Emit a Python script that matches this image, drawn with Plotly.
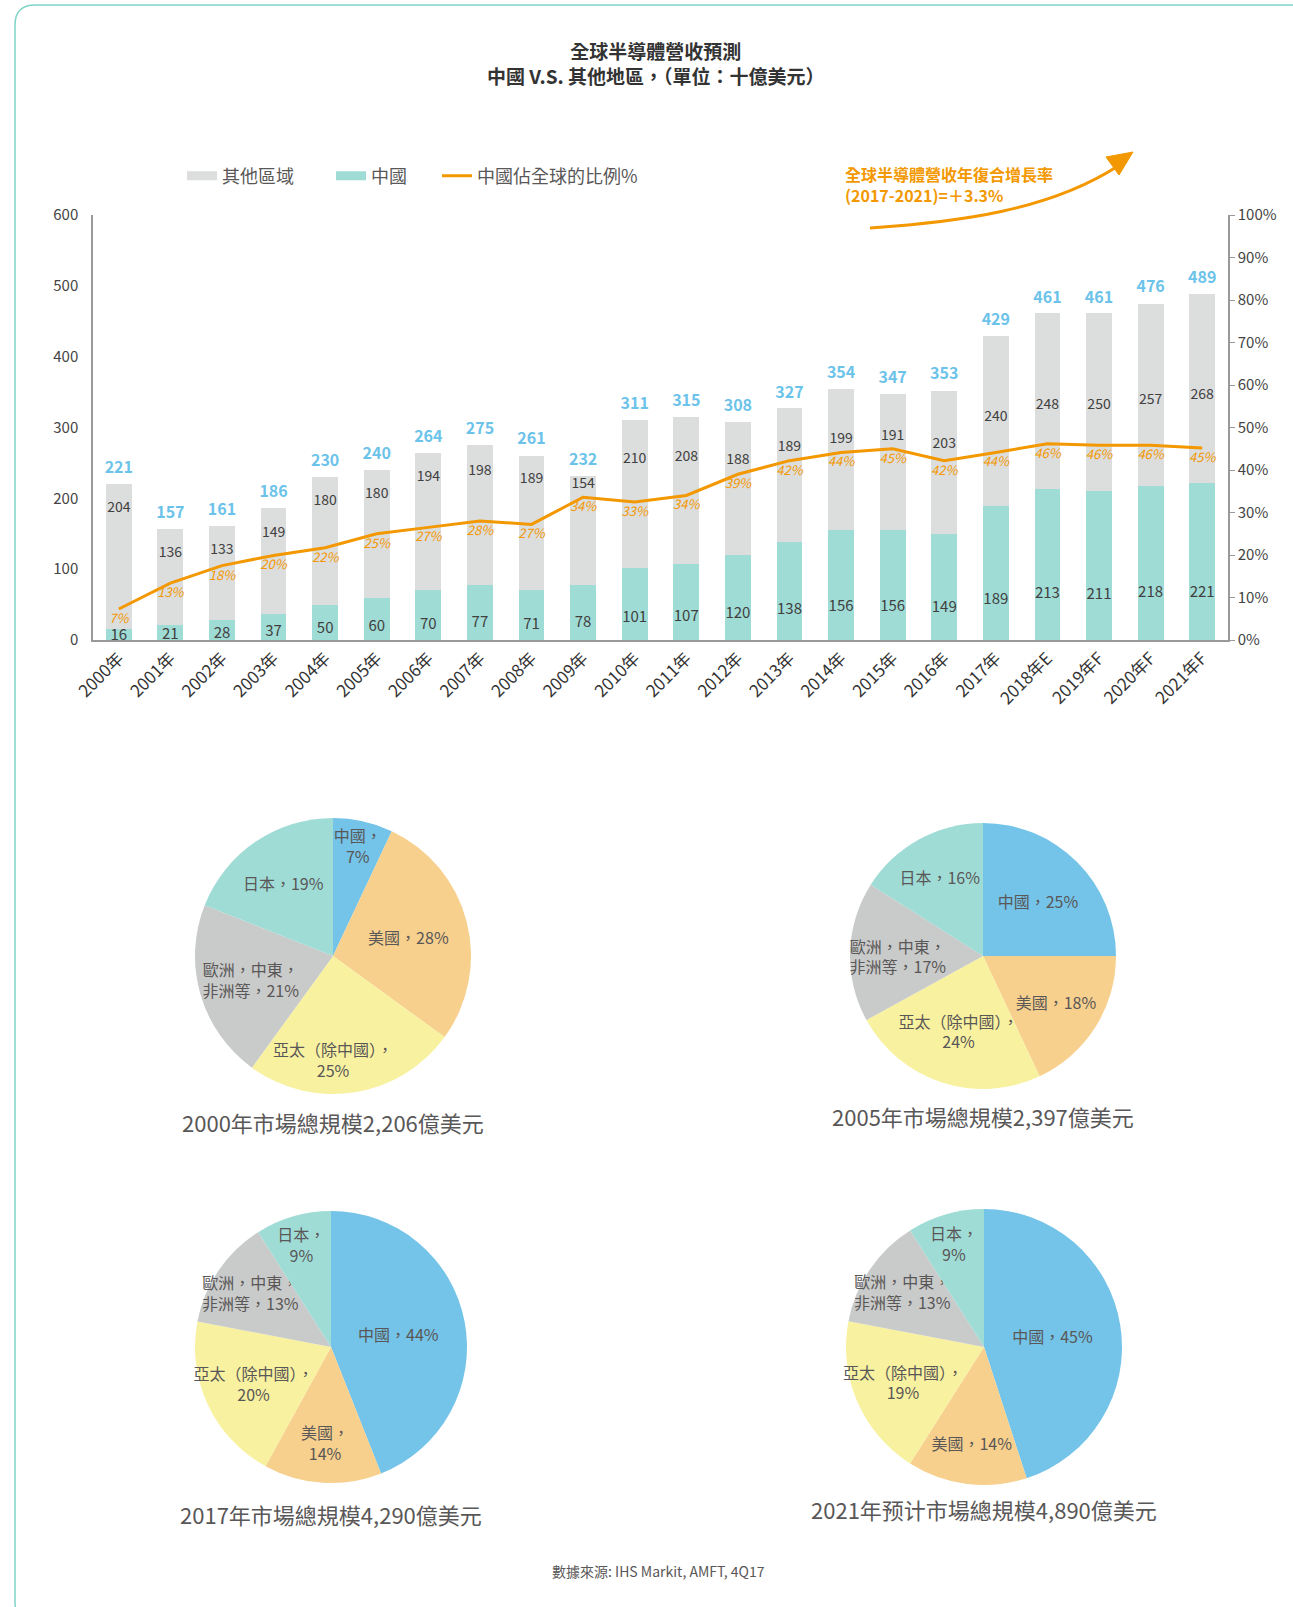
import plotly.graph_objects as go

W, H = 1293, 1607
FONT = "Noto Sans CJK TC"

# ---------------- data ----------------
years = ["2000年", "2001年", "2002年", "2003年", "2004年", "2005年", "2006年", "2007年",
         "2008年", "2009年", "2010年", "2011年", "2012年", "2013年", "2014年", "2015年",
         "2016年", "2017年", "2018年E", "2019年F", "2020年F", "2021年F"]
china = [16, 21, 28, 37, 50, 60, 70, 77, 71, 78, 101, 107, 120, 138, 156, 156, 149, 189, 213, 211, 218, 221]
other = [204, 136, 133, 149, 180, 180, 194, 198, 189, 154, 210, 208, 188, 189, 199, 191, 203, 240, 248, 250, 257, 268]
total = [221, 157, 161, 186, 230, 240, 264, 275, 261, 232, 311, 315, 308, 327, 354, 347, 353, 429, 461, 461, 476, 489]
share_line = [7.3, 13.4, 17.5, 19.9, 21.7, 25.0, 26.5, 28.0, 27.2, 33.6, 32.5, 34.0, 39.0, 42.2, 44.1, 45.0,
              42.2, 44.1, 46.2, 45.8, 45.8, 45.2]
share_label = [7, 13, 18, 20, 22, 25, 27, 28, 27, 34, 33, 34, 39, 42, 44, 45, 42, 44, 46, 46, 46, 45]

regions = ["中國", "美國", "亞太（除中國）", "歐洲，中東，非洲等", "日本"]
pie_2000 = [7, 28, 25, 21, 19]
pie_2005 = [25, 18, 24, 17, 16]
pie_2017 = [44, 14, 20, 13, 9]
pie_2021 = [45, 14, 19, 13, 9]
txt_2000 = ["中國，<br>7%", "美國，28%", "亞太（除中國），<br>25%", "歐洲，中東，<br>非洲等，21%", "日本，19%"]
txt_2005 = ["中國，25%", "美國，18%", "亞太（除中國），<br>24%", "歐洲，中東，<br>非洲等，17%", "日本，16%"]
txt_2017 = ["中國，44%", "美國，<br>14%", "亞太（除中國），<br>20%", "歐洲，中東，<br>非洲等，13%", "日本，<br>9%"]
txt_2021 = ["中國，45%", "美國，14%", "亞太（除中國），<br>19%", "歐洲，中東，<br>非洲等，13%", "日本，<br>9%"]
captions = ["2000年市場總規模2,206億美元", "2005年市場總規模2,397億美元",
            "2017年市場總規模4,290億美元", "2021年预计市場總規模4,890億美元"]

C_GRAY = "#dcdddd"
C_TEAL = "#a0dcd6"
C_ORANGE = "#f39800"
C_BLUE_TXT = "#6cc3ea"
C_TXT = "#404040"
PIE_COLORS = ["#74c3e8", "#f7d08e", "#f8f1a0", "#c9caca", "#a0dcd6"]


def X(px):
    return px / W


def Y(py):
    return 1 - py / H


fig = go.Figure()

# stacked bars
fig.add_trace(go.Bar(x=years, y=china, name="中國", marker=dict(color=C_TEAL, line=dict(width=0)),
                     width=0.5, showlegend=False, hoverinfo="skip"))
fig.add_trace(go.Bar(x=years, y=other, name="其他區域", marker=dict(color=C_GRAY, line=dict(width=0)),
                     width=0.5, showlegend=False, hoverinfo="skip"))

# legend swatches (legend-only)
fig.add_trace(go.Scatter(x=[None], y=[None], mode="lines", name="其他區域",
                         line=dict(color=C_GRAY, width=9), legend="legend"))
fig.add_trace(go.Scatter(x=[None], y=[None], mode="lines", name="中國",
                         line=dict(color=C_TEAL, width=9), legend="legend2"))

# value labels
other_label_y = [max(min(t - 35, 0.5 * t + 100), s * 6 + 18) for t, s in zip(total, share_line)]
fig.add_trace(go.Scatter(x=years, y=[c * 0.3 for c in china], mode="text", text=[str(v) for v in china],
                         textfont=dict(size=15, color=C_TXT, family=FONT), showlegend=False,
                         hoverinfo="skip"))
fig.add_trace(go.Scatter(x=years, y=other_label_y, mode="text", text=[str(v) for v in other],
                         textfont=dict(size=14, color=C_TXT, family=FONT), showlegend=False,
                         hoverinfo="skip"))
fig.add_trace(go.Scatter(x=years, y=[t + 21 for t in total], mode="text",
                         text=[f"<b>{v}</b>" for v in total],
                         textfont=dict(size=16, color=C_BLUE_TXT, family=FONT), showlegend=False,
                         hoverinfo="skip"))

# share line + its labels
fig.add_trace(go.Scatter(x=years, y=[v / 100 for v in share_line], yaxis="y2", mode="lines",
                         name="中國佔全球的比例%", line=dict(color=C_ORANGE, width=3),
                         legend="legend3", hoverinfo="skip"))
fig.add_trace(go.Scatter(x=years, y=[v / 100 - 0.025 for v in share_line], yaxis="y2", mode="text",
                         text=[f"<i>{v}%</i>" for v in share_label],
                         textfont=dict(size=13, color=C_ORANGE, family=FONT), showlegend=False,
                         hoverinfo="skip"))

# pies
pie_specs = [
    (pie_2000, txt_2000, 333, 956, 138),
    (pie_2005, txt_2005, 983, 956, 133),
    (pie_2017, txt_2017, 331, 1347, 136),
    (pie_2021, txt_2021, 984, 1347, 138),
]
for vals, txts, cx, cy, r in pie_specs:
    fig.add_trace(go.Pie(labels=regions, values=vals, text=txts, textinfo="text",
                         textposition="inside", insidetextorientation="horizontal",
                         sort=False, direction="clockwise", rotation=0, automargin=False,
                         marker=dict(colors=PIE_COLORS, line=dict(width=0)),
                         textfont=dict(size=16, color="#595757", family=FONT),
                         domain=dict(x=[X(cx - r), X(cx + r)], y=[Y(cy + r), Y(cy - r)]),
                         showlegend=False, hoverinfo="skip"))


def ann(px, py, text, size, color, xanchor="center", align="center"):
    return dict(x=X(px), y=Y(py), xref="paper", yref="paper", showarrow=False,
                xanchor=xanchor, yanchor="middle", text=text, align=align,
                font=dict(size=size, color=color, family=FONT))


annotations = [
    ann(656, 63, "<b>全球半導體營收預測<br>中國 V.S. 其他地區，（單位：十億美元）</b>", 19, "#333333"),
    ann(843, 184, "<b>全球半導體營收年復合增長率<br>(2017-2021)=＋3.3%</b>", 16, C_ORANGE,
        xanchor="left", align="left"),
    ann(658, 1571, "數據來源: IHS Markit, AMFT, 4Q17", 14, "#595757"),
]
cap_pos = [(333, 1122), (983, 1116), (331, 1514), (984, 1509)]
for cap, (cx, cy) in zip(captions, cap_pos):
    annotations.append(ann(cx, cy, cap, 22, "#595757"))


def P(px, py):
    return f"{X(px)},{Y(py)}"


r0 = 20
L, T, R, B = 15, 5, 1312, 1622
border_path = (f"M {P(L + r0, T)} L {P(R - r0, T)} Q {P(R, T)} {P(R, T + r0)} "
               f"L {P(R, B - r0)} Q {P(R, B)} {P(R - r0, B)} L {P(L + r0, B)} "
               f"Q {P(L, B)} {P(L, B - r0)} L {P(L, T + r0)} Q {P(L, T)} {P(L + r0, T)} Z")

shapes = [
    dict(type="path", xref="paper", yref="paper", path=border_path,
         line=dict(color="#7fd3c8", width=1.5), fillcolor="rgba(0,0,0,0)", layer="below"),
    dict(type="path", xref="paper", yref="paper",
         path=f"M {P(870, 228)} C {P(960, 222)} {P(1050, 210)} {P(1118, 166)}",
         line=dict(color=C_ORANGE, width=3)),
    dict(type="path", xref="paper", yref="paper",
         path=f"M {P(1133, 152)} L {P(1106, 157)} L {P(1119, 175)} Z",
         line=dict(color=C_ORANGE, width=1), fillcolor=C_ORANGE),
]

leg_common = dict(orientation="h", yanchor="middle", xanchor="left", y=Y(176),
                  font=dict(size=18, color="#595757", family=FONT), bgcolor="rgba(0,0,0,0)",
                  itemwidth=30)

fig.update_layout(
    template="none",
    width=W, height=H, autosize=False,
    margin=dict(l=0, r=0, t=0, b=0, pad=0, autoexpand=False),
    paper_bgcolor="white", plot_bgcolor="white",
    font=dict(family=FONT, color="#444444"),
    barmode="stack",
    showlegend=True,
    legend=dict(x=X(182), **leg_common),
    legend2=dict(x=X(331), **leg_common),
    legend3=dict(x=X(437), **leg_common),
    xaxis=dict(domain=[X(93), X(1228)], type="category", tickangle=-45, showgrid=False,
               showline=True, linecolor="#999999", linewidth=1.5, ticks="", automargin=False,
               tickfont=dict(size=17, color="#333333", family=FONT), anchor="y",
               range=[-0.5, 21.5], zeroline=False),
    yaxis=dict(domain=[Y(640), Y(215)], range=[0, 600], dtick=100, showgrid=False, zeroline=False,
               showline=True, linecolor="#999999", linewidth=1.5, ticks="", ticklabelstandoff=10,
               automargin=False,
               tickfont=dict(size=15, color="#444444", family=FONT), anchor="x"),
    yaxis2=dict(overlaying="y", side="right", range=[0, 1], dtick=0.1, tickformat=".0%",
                showgrid=False, zeroline=False, showline=True, linecolor="#999999", linewidth=1.5,
                ticks="outside", ticklen=5, tickcolor="#999999", automargin=False,
                tickfont=dict(size=15, color="#444444", family=FONT), anchor="x"),
    annotations=annotations,
    shapes=shapes,
    uniformtext=dict(minsize=16, mode="show"),
)

fig.write_html(
    "out.html", config={"displayModeBar": False},
    post_script=("document.documentElement.style.margin='0';document.body.style.margin='0';"
                 "document.body.style.padding='0';document.documentElement.style.overflow='hidden';"
                 "window.scrollTo(0,0);"))
